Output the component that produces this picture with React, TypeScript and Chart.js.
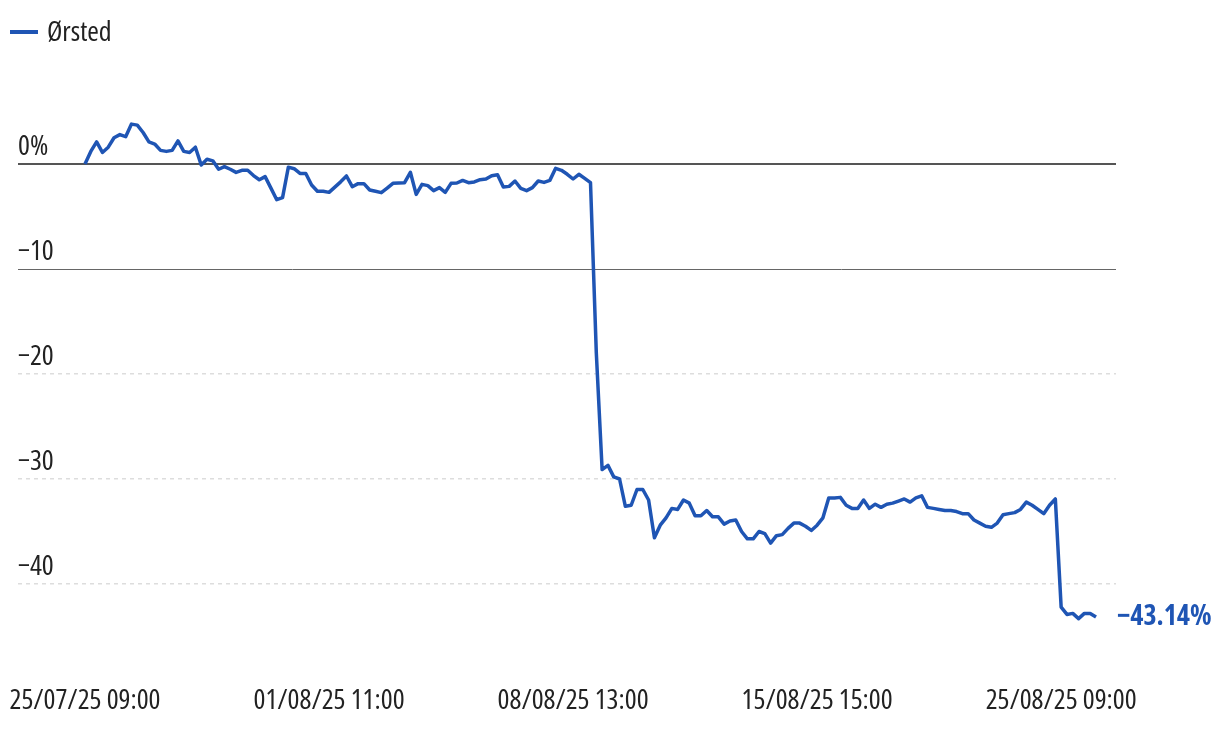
import React, { useEffect, useRef } from 'react';
import { Chart, registerables } from 'chart.js';

Chart.register(...registerables);

const seriesName = 'Ørsted';
const xTickIndices = [0, 42, 84, 126, 168];
const xTickLabels = ['25/07/25 09:00', '01/08/25 11:00', '08/08/25 13:00', '15/08/25 15:00', '25/08/25 09:00'];
const yTickValues = [0, -10, -20, -30, -40];
const orstedValues = [
  0, 1.2, 2.1, 1.1, 1.6, 2.5, 2.8, 2.6, 3.8, 3.7,
  3.0, 2.1, 1.9, 1.3, 1.2, 1.3, 2.2, 1.2, 1.1, 1.6,
  -0.1, 0.45, 0.3, -0.5, -0.25, -0.5, -0.8, -0.6, -0.6, -1.1,
  -1.5, -1.2, -2.3, -3.4, -3.2, -0.3, -0.45, -0.9, -0.9, -2.0,
  -2.6, -2.6, -2.7, -2.2, -1.7, -1.14, -2.16, -1.87, -1.87, -2.48,
  -2.6, -2.73, -2.3, -1.84, -1.8, -1.78, -0.79, -2.89, -1.94, -2.06,
  -2.54, -2.25, -2.7, -1.84, -1.81, -1.56, -1.78, -1.71, -1.49, -1.43,
  -1.11, -1.02, -2.19, -2.13, -1.62, -2.32, -2.54, -2.25, -1.62, -1.75,
  -1.56, -0.41, -0.6, -0.98, -1.43, -0.98, -1.37, -1.78, -18.0, -29.1,
  -28.7, -29.8, -30.0, -32.6, -32.5, -31.0, -31.0, -32.0, -35.6, -34.4,
  -33.7, -32.8, -32.9, -32.0, -32.3, -33.5, -33.5, -33.0, -33.6, -33.6,
  -34.3, -34.0, -33.9, -35.0, -35.7, -35.7, -35.0, -35.2, -36.1, -35.4,
  -35.3, -34.7, -34.2, -34.2, -34.5, -34.9, -34.4, -33.7, -31.8, -31.8,
  -31.75, -32.5, -32.8, -32.8, -32.0, -32.8, -32.4, -32.7, -32.4, -32.3,
  -32.1, -31.9, -32.2, -31.8, -31.6, -32.7, -32.8, -32.9, -33.0, -33.0,
  -33.1, -33.3, -33.3, -33.9, -34.2, -34.5, -34.6, -34.2, -33.4, -33.3,
  -33.2, -32.9, -32.2, -32.5, -32.9, -33.3, -32.5, -31.9, -42.2, -42.9,
  -42.8, -43.3, -42.8, -42.8, -43.14,
];

const FAMILY = "'Open Sans', 'DejaVu Sans Condensed', sans-serif";
const BLUE = '#1f55b4';
const TEXT = '#222222';

const fmtMinus = (s: string) => s.replace('-', '\u2212');

const overlayPlugin = {
  id: 'overlay',
  afterDraw(chart: any) {
    const ctx = chart.ctx;
    ctx.save();
    ctx.strokeStyle = BLUE;
    ctx.lineWidth = 4;
    ctx.beginPath();
    ctx.moveTo(10, 32);
    ctx.lineTo(38, 32);
    ctx.stroke();
    ctx.fillStyle = TEXT;
    ctx.font = `condensed 28px ${FAMILY}`;
    ctx.textBaseline = 'middle';
    ctx.textAlign = 'left';
    ctx.fillText(seriesName, 47, 33);
    const meta = chart.getDatasetMeta(0);
    const lastPt = meta.data[meta.data.length - 1];
    const lastVal = orstedValues[orstedValues.length - 1];
    ctx.font = `bold condensed 28px ${FAMILY}`;
    ctx.fillStyle = BLUE;
    ctx.fillText(fmtMinus(lastVal.toFixed(2)) + '%', lastPt.x + 21, lastPt.y);
    ctx.restore();
  },
};

export default function App() {
  const ref = useRef<HTMLCanvasElement>(null);
  useEffect(() => {
    if (!ref.current) return;
    const chart = new Chart(ref.current, {
      type: 'line',
      data: {
        datasets: [
          {
            label: seriesName,
            data: orstedValues.map((v, i) => ({ x: i, y: v })),
            borderColor: BLUE,
            borderWidth: 3.5,
            borderJoinStyle: 'round',
            pointRadius: 0,
            tension: 0,
            fill: false,
          },
        ],
      },
      options: {
        animation: false,
        responsive: false,
        layout: { padding: { top: 60, left: 18, right: 104, bottom: 16 } },
        plugins: { legend: { display: false }, tooltip: { enabled: false } },
        scales: {
          x: {
            type: 'linear',
            min: -11.53,
            max: 177.44,
            grid: { display: false, drawTicks: false },
            border: { display: false },
            afterBuildTicks: (scale: any) => {
              scale.ticks = xTickIndices.map((v) => ({ value: v }));
            },
            afterFit: (scale: any) => {
              scale.height = 67;
              scale.paddingLeft = 0;
              scale.paddingRight = 0;
            },
            ticks: {
              autoSkip: false,
              maxRotation: 0,
              padding: 37,
              color: TEXT,
              font: { family: FAMILY, size: 28, weight: 'condensed' },
              callback: (v: any) => {
                const k = xTickIndices.indexOf(Number(v));
                return k >= 0 ? xTickLabels[k] : '';
              },
            },
          },
          y: {
            type: 'linear',
            min: -46,
            max: 9.905,
            afterBuildTicks: (scale: any) => {
              scale.ticks = yTickValues.map((v) => ({ value: v }));
            },
            afterFit: (scale: any) => {
              scale.width = 0;
            },
            grid: {
              drawTicks: false,
              color: (c: any) => {
                const v = c.tick ? c.tick.value : null;
                if (v === 0) return '#555555';
                if (v === -10) return '#666666';
                return '#dddddd';
              },
              lineWidth: (c: any) => {
                const v = c.tick ? c.tick.value : null;
                if (v === 0) return 2;
                if (v === -10) return 1;
                return 1.5;
              },
            },
            border: {
              display: false,
              dash: (c: any) => {
                const v = c.tick ? c.tick.value : null;
                return v !== null && v <= -20 ? [4, 4] : [];
              },
            },
            ticks: {
              mirror: true,
              padding: 0,
              labelOffset: -17,
              color: TEXT,
              font: { family: FAMILY, size: 28, weight: 'condensed' },
              callback: (v: any) => (Number(v) === 0 ? '0%' : fmtMinus(String(v))),
            },
          },
        },
      },
      plugins: [overlayPlugin],
    } as any);
    return () => chart.destroy();
  }, []);
  return (
    <div style={{ position: 'fixed', left: 0, top: 0, width: 1220, height: 730, background: '#fff' }}>
      <canvas ref={ref} width={1220} height={730} />
    </div>
  );
}
